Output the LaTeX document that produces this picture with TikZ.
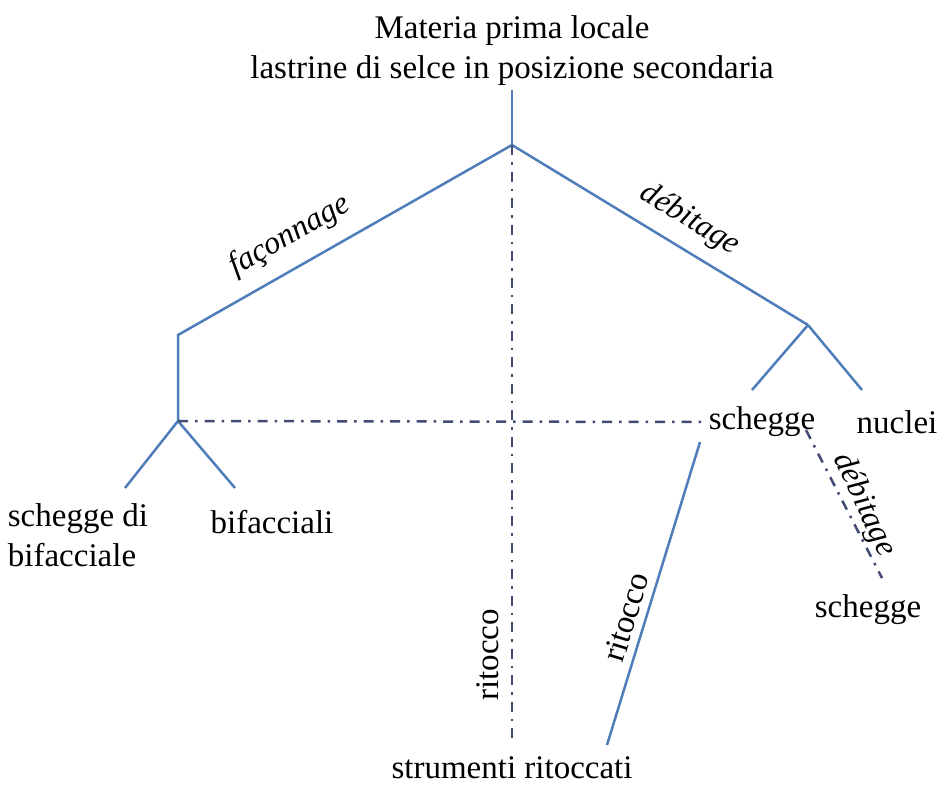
\documentclass[tikz,border=0pt]{standalone}
\usepackage{fontspec}
\setmainfont{Liberation Serif}
\begin{document}
\begin{tikzpicture}[x=1pt,y=-1pt,
  branch/.style={draw=blueline,line width=2.5pt},
  dotdash/.style={draw=dashcol,line width=2.5pt,dash pattern=on 10pt off 7pt on 2.5pt off 7pt},
  lbl/.style={inner sep=0pt,font=\fontsize{33}{40}\selectfont},
  proc/.style={inner sep=0pt,font=\fontsize{32}{38}\selectfont\itshape}]
\definecolor{blueline}{RGB}{79,125,185}
\definecolor{dashcol}{RGB}{65,75,115}
\useasboundingbox (0,0) rectangle (941,787);
% texts
\node[lbl,align=center] (top) at (512,51) {Materia prima locale\\lastrine di selce in posizione secondaria};
\coordinate (topend) at (512,90);
\coordinate (j0) at (512,145);
\coordinate (jl1) at (178,335);
\coordinate (jl2) at (178,421);
\coordinate (jr) at (808,325);
\coordinate (sbend) at (125,488);
\coordinate (bfend) at (235,488);
\coordinate (scend) at (752,390);
\coordinate (nuend) at (862,390);
\node[lbl] (sch) at (762,422) {schegge};
\node[lbl] (nuc) at (897,422) {nuclei};
\node[lbl,align=left] (sbif) at (78,535) {schegge di\\bifacciale};
\node[lbl] (bif) at (272,522) {bifacciali};
\node[lbl] (sch2) at (868,610) {schegge};
\node[lbl] (str) at (512,768) {strumenti ritoccati};
\coordinate (vbot) at (512,740);
\coordinate (rstart) at (700,442);
\coordinate (rend) at (607,745);
\coordinate (dstart) at (806,430);
\coordinate (dend) at (882,578);
\coordinate (hend) at (705,422);
% solid branches
\draw[branch] (topend) -- (j0);
\draw[branch] (j0) -- (jl1) -- (jl2);
\draw[branch] (jl2) -- (sbend);
\draw[branch] (jl2) -- (bfend);
\draw[branch] (j0) -- (jr);
\draw[branch] (jr) -- (scend);
\draw[branch] (jr) -- (nuend);
\draw[branch] (rstart) -- (rend);
% dash-dot lines
\draw[dotdash] (jl2) -- (hend);
\draw[dotdash] (j0) -- (vbot);
\draw[dotdash] (dstart) -- (dend);
% process labels
\node[proc,rotate=29.6] (fac) at (290,236) {façonnage};
\node[proc,rotate=-31.3] (deb1) at (690,220) {débitage};
\node[proc,rotate=-65] (deb2) at (864,505) {débitage};
\node[lbl,rotate=90] (rit1) at (488,655) {ritocco};
\node[lbl,rotate=73] (rit2) at (626,617) {ritocco};
\end{tikzpicture}
\end{document}
